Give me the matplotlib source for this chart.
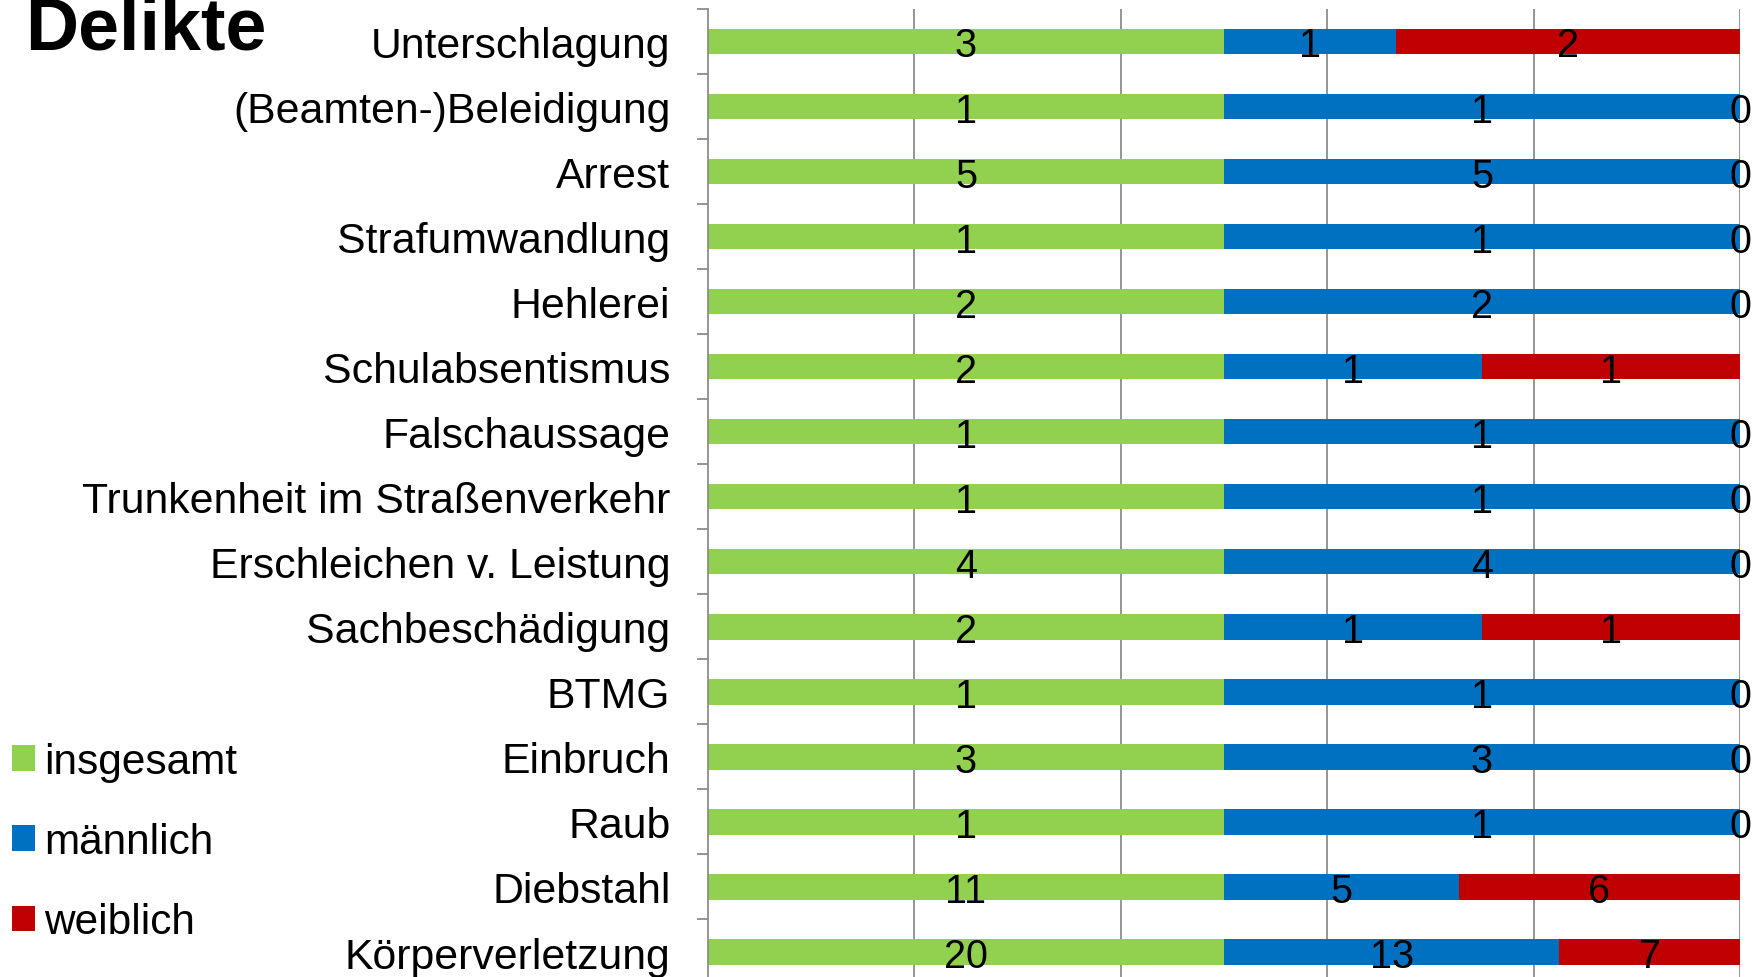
import numpy as np
import matplotlib.pyplot as plt

plt.rcParams['font.family'] = ['Liberation Sans', 'DejaVu Sans']

# categories from bottom to top
categories = ["Körperverletzung", "Diebstahl", "Raub", "Einbruch", "BTMG",
              "Sachbeschädigung", "Erschleichen v. Leistung",
              "Trunkenheit im Straßenverkehr", "Falschaussage", "Schulabsentismus",
              "Hehlerei", "Strafumwandlung", "Arrest", "(Beamten-)Beleidigung",
              "Unterschlagung"]
insgesamt = [20, 11, 1, 3, 1, 2, 4, 1, 1, 2, 2, 1, 5, 1, 3]
maennlich = [13, 5, 1, 3, 1, 1, 4, 1, 1, 1, 2, 1, 5, 1, 1]
weiblich = [7, 6, 0, 0, 0, 1, 0, 0, 0, 1, 0, 0, 0, 0, 2]
series_names = ["insgesamt", "männlich", "weiblich"]
colors = ["#92D050", "#0070C0", "#C00000"]

fig = plt.figure(figsize=(17.62, 9.78), dpi=100)
ax = fig.add_axes([0.4018, -0.0077, 0.5857, 0.9975])

# 100% stacked bars
data = np.array([insgesamt, maennlich, weiblich], dtype=float)
shares = data / data.sum(axis=0)
y = np.arange(len(categories))
left = np.zeros(len(categories))
for vals, share, name, c in zip(data, shares, series_names, colors):
    ax.barh(y, share, left=left, height=0.39, color=c, label=name, zorder=2)
    for yi, l, s, v in zip(y, left, share, vals):
        ax.text(l + s / 2, yi, f"{int(v)}", ha='center', va='center_baseline',
                fontsize=28.5, zorder=3)
    left += share

ax.set_xlim(0, 1)
ax.set_ylim(-0.5, len(categories) - 0.5)
ax.set_xticks([0.2, 0.4, 0.6, 0.8, 1.0])
ax.tick_params(axis='x', length=0, labelbottom=False)
ax.xaxis.grid(True, color='#8c8c8c', lw=1.3)
ax.set_axisbelow(True)
for s in ['top', 'right', 'bottom']:
    ax.spines[s].set_visible(False)
ax.spines['left'].set_color('#8c8c8c')
ax.spines['left'].set_linewidth(1.3)

ax.set_yticks(y)
ax.set_yticklabels(categories, fontsize=30.8)
ax.tick_params(axis='y', which='major', length=0, pad=27)
ax.set_yticks(np.arange(-0.5, len(categories), 1), minor=True)
ax.tick_params(axis='y', which='minor', length=8, color='#8c8c8c', width=1.3)

fig.text(25 / 1762, 1 - 50 / 978, "Delikte", fontsize=53, fontweight='bold',
         va='baseline')

handles, labels = ax.get_legend_handles_labels()
fig.legend(handles, labels, loc='upper left', bbox_to_anchor=(0.0068, 1 - 743 / 978),
           frameon=False, fontsize=30.5, handlelength=0.55, handleheight=0.55,
           handletextpad=0.2, labelspacing=0.95, borderpad=0, borderaxespad=0)

fig.savefig('out.png', dpi=100)
